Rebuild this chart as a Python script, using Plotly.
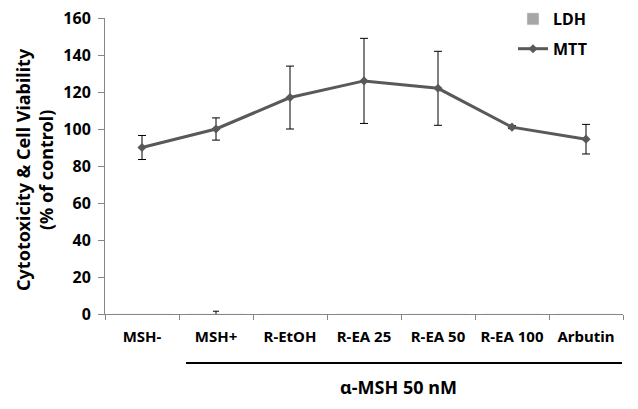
import plotly.graph_objects as go

categories = ["MSH-", "MSH+", "R-EtOH", "R-EA 25", "R-EA 50", "R-EA 100", "Arbutin"]
mtt_values = [90, 100, 117, 126, 122, 101, 94.5]
mtt_errors = [6.5, 6, 17, 23, 20, 0.8, 8]
ldh_values = [0, 0, 0, 0, 0, 0, 0]
ldh_errors = [0, 1.5, 0, 0, 0, 0, 0]
y_ticks = [0, 20, 40, 60, 80, 100, 120, 140, 160]

FONT = "Noto Sans"

fig = go.Figure()
fig.add_trace(go.Bar(
    x=categories, y=ldh_values, name="LDH",
    marker=dict(color="#A6A6A6"),
    legendgroup="a",
))
# LDH error bars only where non-zero
ldh_err_x = [c for c, e in zip(categories, ldh_errors) if e]
ldh_err_y = [v for v, e in zip(ldh_values, ldh_errors) if e]
ldh_err_e = [e for e in ldh_errors if e]
fig.add_trace(go.Scatter(
    x=ldh_err_x, y=ldh_err_y, mode="markers", showlegend=False,
    marker=dict(size=1, color="rgba(0,0,0,0)"),
    error_y=dict(type="data", array=ldh_err_e, color="black", thickness=1, width=3),
    hoverinfo="skip",
))
fig.add_trace(go.Scatter(
    x=categories, y=mtt_values, name="MTT", mode="lines+markers",
    line=dict(color="#595959", width=3),
    marker=dict(symbol="diamond", size=7, color="#595959"),
    error_y=dict(type="data", array=mtt_errors, color="black", thickness=1, width=4),
    legendgroup="b",
))

L, R, T, B = 105, 15, 18, 95
W, H = 638, 409
pw = W - L - R
ph = H - T - B

fig.update_layout(
    width=W, height=H,
    margin=dict(l=L, r=R, t=T, b=B, autoexpand=False),
    paper_bgcolor="white", plot_bgcolor="white",
    font=dict(family=FONT, size=16, color="black"),
    showlegend=True,
    legend=dict(
        x=(513 - L) / pw, y=1 + 16 / ph, xanchor="left", yanchor="top",
        font=dict(family=FONT, size=16, color="black", weight="bold"),
        tracegroupgap=6, bgcolor="rgba(0,0,0,0)",
        itemwidth=30,
    ),
    xaxis=dict(
        type="category", range=[-0.5, 6.5],
        showline=True, linecolor="#868686", linewidth=1,
        ticks="outside", tickson="boundaries", ticklen=5, tickcolor="#868686",
        tickfont=dict(family=FONT, size=15, color="black", weight="bold"),
        tickangle=0,
        ticklabelstandoff=9,
        showgrid=False,
    ),
    yaxis=dict(
        range=[0, 160], tickvals=y_ticks,
        showline=True, linecolor="#868686", linewidth=1,
        ticks="outside", ticklen=6, tickcolor="#868686",
        tickfont=dict(family=FONT, size=16, color="black", weight="bold"),
        ticklabelstandoff=4,
        showgrid=False, zeroline=False,
    ),
)

# y-axis title (two lines)
fig.add_annotation(
    xref="paper", yref="paper", x=-(L - 34) / pw, y=(H - B - 170) / ph,
    text="<b>Cytotoxicity & Cell Viability<br>(% of control)</b>",
    textangle=-90, showarrow=False, xanchor="center", yanchor="middle",
    font=dict(family=FONT, size=18, color="black"),
)

# bracket line under alpha-MSH-treated groups
fig.add_shape(
    type="line", xref="paper", yref="paper",
    x0=(186 - L) / pw, x1=(622 - L) / pw,
    y0=-(363 - (H - B)) / ph, y1=-(363 - (H - B)) / ph,
    line=dict(color="black", width=2),
)
fig.add_annotation(
    xref="paper", yref="paper", x=(398 - L) / pw, y=-(387 - (H - B)) / ph,
    text="<b>α-MSH 50 nM</b>", showarrow=False, xanchor="center", yanchor="middle",
    font=dict(family=FONT, size=18, color="black"),
)

fig.write_html("out.html")
